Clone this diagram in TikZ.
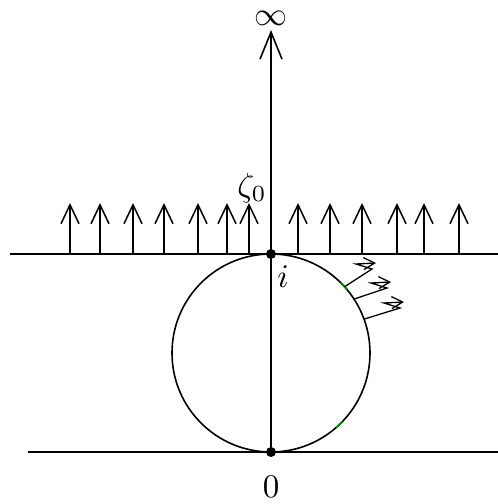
\documentclass[tikz,border=0pt]{standalone}
\usetikzlibrary{arrows.meta}

\begin{document}
\begin{tikzpicture}[x=1pt,y=1pt,line width=1.6pt,
  lab/.style={scale=3.3,inner sep=0pt},
  up/.style={-{Straight Barb[length=19pt,width=18pt,line width=1.5pt]}},
  wave/.style={line width=1.3pt,-{Straight Barb[length=11pt,width=12pt,line width=1.3pt]}},
  dot/.style={circle,fill,inner sep=0pt,minimum size=10pt}]
  \useasboundingbox (0,0) rectangle (498,504);
  % the two lines and the disc between them
  \draw (10,250) -- (498,250);
  \draw (28,52) -- (498,52);
  \draw (271,151) circle[radius=99];
  \draw[green!55!black,line width=1.8pt] ([shift={(271,151)}]40:99) arc (40:45:99);
  \draw[green!55!black,line width=1.8pt] ([shift={(271,151)}]-44:99) arc (-44:-49:99);
  % marked points and labels
  \node[dot] (pti) at (271,250) {};
  \node[dot] (pto) at (271,52) {};
  \coordinate (top) at (271,474);
  \node[lab] (infty) at (271,486) {$\infty$};
  \node[lab] (zero) at (271,17) {$0$};
  \node[lab] (i) at (283,227) {$i$};
  \node[lab] (zeta) at (252,316) {$\zeta_0$};
  \draw[-{Straight Barb[length=27pt,width=22pt,line width=1.6pt]}] (pto.center) -- (top);
  % field of arrows above the upper line
  \foreach \x in {70,100,133,164,198,227,249,298,330,362,397,424,459}
    \draw[up] (\x,250) -- (\x,301);
  % zigzag arrows leaving the circle
  \foreach \a/\tx/\ty in {42/376/241,33/391/222,20/404/202} {
    \coordinate (s) at ([shift={(271,151)}]\a:99);
    \draw[wave] (s) -- (\tx-4,\ty-6) -- (\tx-20,\ty-1) -- (\tx,\ty);
  }
\end{tikzpicture}
\end{document}
